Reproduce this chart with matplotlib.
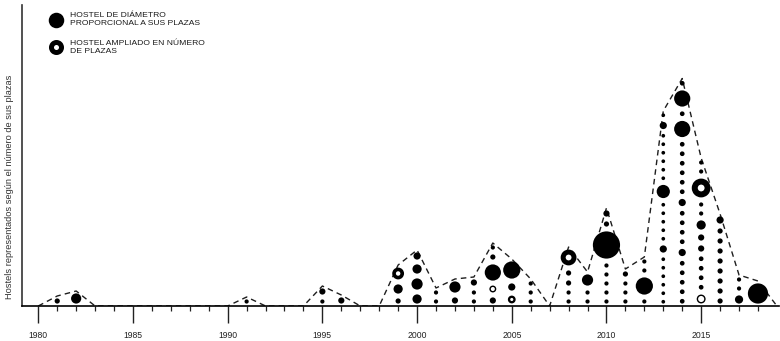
import matplotlib
matplotlib.use('Agg')
import matplotlib.pyplot as plt
import numpy as np

plt.rcParams['font.family'] = ['Liberation Sans', 'DejaVu Sans']

# ---- data: one entry per hostel, bottom-to-top within each year ----
# tipo: F = hostel (diameter ~ plazas), A = hostel ampliado, O = open circle
hostel_year = (
    [1981, 1982, 1991, 1995, 1995, 1996]
    + [1999] * 3 + [2000] * 4 + [2001] * 2 + [2002] * 2 + [2003] * 3
    + [2004] * 5 + [2005] * 3 + [2006] * 3 + [2008] * 5 + [2009] * 3
    + [2010] * 8 + [2011] * 4 + [2012] * 4 + [2013] * 21 + [2014] * 21
    + [2015] * 13 + [2016] * 9 + [2017] * 3 + [2018] * 1
)
hostel_plazas = [
    16, 36, 12, 12, 20, 20,
    16, 32, 44,
    32, 40, 32, 24,
    12, 12,
    20, 40,
    12, 12, 20,
    20, 24, 60, 16, 12,
    28, 24, 64,
    12, 12, 12,
    12, 12, 16, 16, 60,
    12, 12, 40,
    12, 12, 12, 12, 12, 104, 16, 20,
    12, 12, 12, 16,
    12, 64, 12, 12,
    10, 10, 10, 10, 10, 10, 24, 10, 10, 10, 10, 10, 48, 10, 10, 10, 10, 10, 10, 24, 10,
    14, 14, 14, 14, 14, 24, 14, 14, 14, 14, 24, 14, 14, 14, 14, 14, 14, 60, 14, 60, 14,
    32, 14, 14, 14, 14, 20, 20, 32, 12, 12, 72, 12, 12,
    16, 16, 16, 16, 16, 16, 16, 16, 24,
    28, 12, 12,
    76,
]
hostel_tipo = [
    'F', 'F', 'F', 'F', 'F', 'F',
    'F', 'F', 'A',
    'F', 'F', 'F', 'F',
    'F', 'F',
    'F', 'F',
    'F', 'F', 'F',
    'F', 'O', 'F', 'F', 'F',
    'A', 'F', 'F',
    'F', 'F', 'F',
    'F', 'F', 'F', 'F', 'A',
    'F', 'F', 'F',
    'F', 'F', 'F', 'F', 'F', 'F', 'F', 'F',
    'F', 'F', 'F', 'F',
    'F', 'F', 'F', 'F',
] + ['F'] * 21 + ['F'] * 21 + [
    'O', 'F', 'F', 'F', 'F', 'F', 'F', 'F', 'F', 'F', 'A', 'F', 'F',
] + ['F'] * 9 + ['F'] * 3 + ['F']

line_years = list(range(1980, 2020))
major_ticks = [1980, 1985, 1990, 1995, 2000, 2005, 2010, 2015]
minor_ticks = list(range(1980, 2019))

legend_labels = ["HOSTEL DE DIÁMETRO\nPROPORCIONAL A SUS PLAZAS",
                 "HOSTEL AMPLIADO EN NÚMERO\nDE PLAZAS"]
ylabel = "Hostels representados según el número de sus plazas"

# ---- layout / style ----
W, H, DPI = 780, 341, 100
GAP = 24            # vertical gap between stacked hostels (in plazas units)
PX_PER_UNIT = 0.25  # marker diameter in px per plaza
PT = 72.0 / DPI

fig = plt.figure(figsize=(W / DPI, H / DPI), dpi=DPI)
ax = fig.add_axes([22 / W, 35 / H, 757 / W, 301 / H])
ax.set_xlim(1979.14, 2019.11)
ax.set_ylim(0, 301 / PX_PER_UNIT)

# stacking
cum = {}
xs, ys, ps, ts = [], [], [], []
for yr, p, t in zip(hostel_year, hostel_plazas, hostel_tipo):
    base = cum.get(yr, 0.0)
    h = p + GAP
    xs.append(yr); ys.append(base + h / 2); ps.append(p); ts.append(t)
    cum[yr] = base + h
tops = [cum.get(y, 0.0) for y in line_years]

ax.plot(line_years, tops, color='#1e1e1e', lw=1.0, ls=(0, (4, 3.0)), zorder=2)

xs = np.array(xs); ys = np.array(ys); ps = np.array(ps, float); ts = np.array(ts)
D = ps * PX_PER_UNIT  # diameter px

m = ts == 'F'
ax.scatter(xs[m], ys[m], s=((D[m] + 1.2) * PT) ** 2, c='black', linewidths=0,
           zorder=3)

m = ts == 'A'
lw = 0.33 * D[m]
ax.scatter(xs[m], ys[m], s=((D[m] - lw + 0.8) * PT) ** 2, facecolors='white',
           edgecolors='black', linewidths=lw * PT, zorder=3)

m = ts == 'O'
ax.scatter(xs[m], ys[m], s=((D[m] - 0.5) * PT) ** 2, facecolors='white',
           edgecolors='black', linewidths=1.4 * PT, zorder=3)

# axes styling
for s in ['top', 'right']:
    ax.spines[s].set_visible(False)
ax.spines['left'].set_linewidth(1.2)
ax.spines['bottom'].set_linewidth(1.2)
ax.spines['left'].set_color('#333333')
ax.set_yticks([])
ax.set_xticks(major_ticks)
ax.set_xticklabels([str(y) for y in major_ticks])
ax.set_xticks(minor_ticks, minor=True)
ax.tick_params(axis='x', which='major', length=12, width=1.0, labelsize=6.2,
               pad=6, color='#222222', labelcolor='#222222')
ax.tick_params(axis='x', which='minor', length=3.6, width=0.9, color='#222222')

fig.text(10 / W, 1 - 187 / H, ylabel, rotation=90, ha='center', va='center',
         fontsize=6.7, color='#333333')

# legend
lx = 55.7 / W
ax.scatter([lx], [1 - 20 / H], s=(15.5 * PT) ** 2, c='black', linewidths=0,
           transform=fig.transFigure, clip_on=False, zorder=5)
Dl = 15.0; lwl = 0.33 * Dl
ax.scatter([lx], [1 - 47 / H], s=((Dl - lwl) * PT) ** 2, facecolors='white',
           edgecolors='black', linewidths=lwl * PT,
           transform=fig.transFigure, clip_on=False, zorder=5)
fig.text(69.5 / W, 1 - 19.5 / H, legend_labels[0], ha='left', va='center',
         fontsize=6.1, linespacing=1.2, color='#1a1a1a')
fig.text(69.5 / W, 1 - 47.5 / H, legend_labels[1], ha='left', va='center',
         fontsize=6.1, linespacing=1.2, color='#1a1a1a')

fig.savefig('out.png', dpi=DPI)
